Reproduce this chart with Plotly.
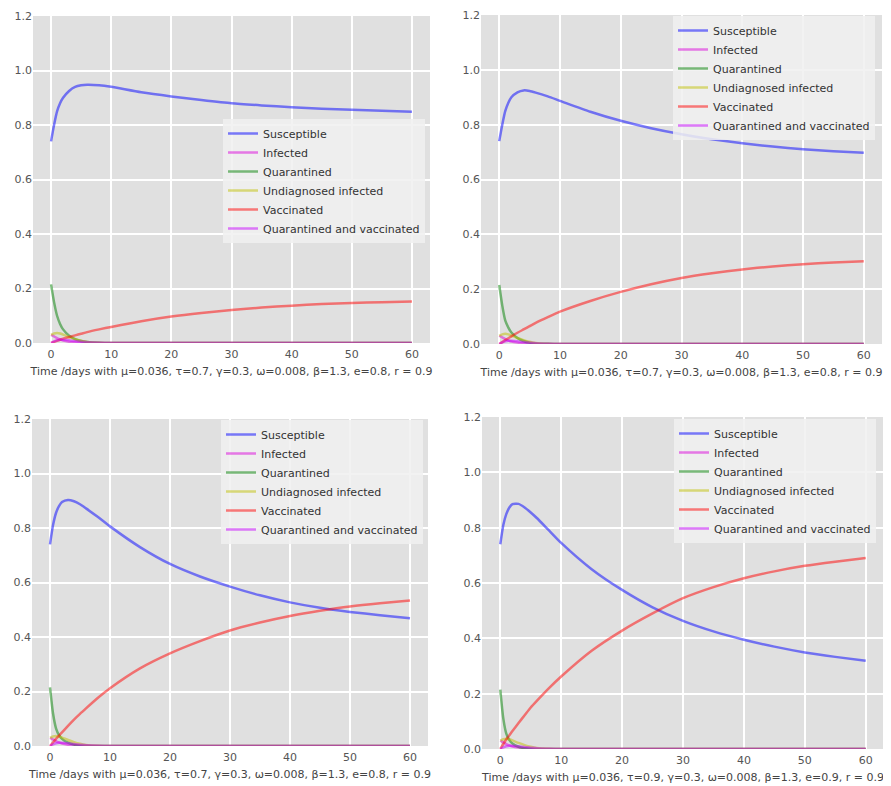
import plotly.graph_objects as go

# ---------------- data ----------------
T = [0, 0.5, 1, 1.5, 2, 3, 4, 5, 6, 8, 10, 15, 20, 25, 30, 35, 40, 45, 50, 55, 60]

S1 = [0.74, 0.80, 0.85, 0.88, 0.90, 0.925, 0.94, 0.946, 0.948, 0.946, 0.94, 0.92, 0.905, 0.892, 0.88, 0.872, 0.865, 0.86, 0.856, 0.852, 0.849]
V1 = [0, 0.004, 0.008, 0.012, 0.016, 0.022, 0.028, 0.034, 0.04, 0.05, 0.059, 0.08, 0.097, 0.11, 0.121, 0.13, 0.137, 0.143, 0.147, 0.15, 0.152]
Q1 = [0.215, 0.15, 0.10, 0.07, 0.05, 0.027, 0.014, 0.007, 0.004, 0.001, 0, 0, 0, 0, 0, 0, 0, 0, 0, 0, 0]

S2 = [0.74, 0.80, 0.85, 0.88, 0.90, 0.918, 0.925, 0.923, 0.917, 0.903, 0.887, 0.847, 0.814, 0.787, 0.765, 0.747, 0.732, 0.72, 0.71, 0.703, 0.698]
V2 = [0, 0.007, 0.014, 0.021, 0.028, 0.041, 0.053, 0.065, 0.077, 0.098, 0.118, 0.157, 0.19, 0.218, 0.241, 0.258, 0.272, 0.283, 0.291, 0.297, 0.302]
Q2 = [0.215, 0.14, 0.085, 0.06, 0.042, 0.022, 0.011, 0.005, 0.002, 0.0005, 0, 0, 0, 0, 0, 0, 0, 0, 0, 0, 0]

S3 = [0.74, 0.81, 0.855, 0.88, 0.895, 0.903, 0.898, 0.887, 0.872, 0.84, 0.806, 0.73, 0.668, 0.622, 0.585, 0.553, 0.527, 0.507, 0.492, 0.48, 0.469]
V3 = [0, 0.013, 0.026, 0.038, 0.05, 0.074, 0.097, 0.118, 0.138, 0.177, 0.212, 0.285, 0.34, 0.385, 0.424, 0.453, 0.477, 0.496, 0.512, 0.524, 0.534]
Q3 = [0.215, 0.12, 0.065, 0.04, 0.026, 0.012, 0.005, 0.002, 0.001, 0, 0, 0, 0, 0, 0, 0, 0, 0, 0, 0, 0]

S4 = [0.74, 0.81, 0.85, 0.873, 0.885, 0.886, 0.873, 0.855, 0.835, 0.79, 0.745, 0.65, 0.575, 0.512, 0.463, 0.425, 0.395, 0.37, 0.349, 0.333, 0.319]
V4 = [0, 0.018, 0.035, 0.05, 0.065, 0.094, 0.122, 0.15, 0.174, 0.22, 0.262, 0.355, 0.428, 0.49, 0.545, 0.585, 0.617, 0.642, 0.662, 0.677, 0.69]
Q4 = [0.215, 0.11, 0.055, 0.032, 0.02, 0.008, 0.003, 0.001, 0, 0, 0, 0, 0, 0, 0, 0, 0, 0, 0, 0, 0]

U_all = [0.03, 0.035, 0.037, 0.035, 0.031, 0.022, 0.014, 0.008, 0.004, 0.001, 0, 0, 0, 0, 0, 0, 0, 0, 0, 0, 0]
I_all = [0.03, 0.024, 0.018, 0.013, 0.009, 0.005, 0.003, 0.001, 0, 0, 0, 0, 0, 0, 0, 0, 0, 0, 0, 0, 0]
QV_all = [0, 0.006, 0.010, 0.012, 0.012, 0.010, 0.007, 0.005, 0.003, 0.001, 0, 0, 0, 0, 0, 0, 0, 0, 0, 0, 0]

NAMES = ["Susceptible", "Infected", "Quarantined", "Undiagnosed infected", "Vaccinated", "Quarantined and vaccinated"]
COLORS = ["rgba(0,0,255,0.5)", "rgba(220,0,220,0.5)", "rgba(0,128,0,0.5)", "rgba(191,191,0,0.5)", "rgba(255,0,0,0.5)", "rgba(200,0,255,0.5)"]

XLABELS = [
    "Time /days with μ=0.036, τ=0.7, γ=0.3, ω=0.008, β=1.3, e=0.8, r = 0.9",
    "Time /days with μ=0.036, τ=0.7, γ=0.3, ω=0.008, β=1.3, e=0.8, r = 0.9",
    "Time /days with μ=0.036, τ=0.7, γ=0.3, ω=0.008, β=1.3, e=0.8, r = 0.9",
    "Time /days with μ=0.036, τ=0.9, γ=0.3, ω=0.008, β=1.3, e=0.9, r = 0.9",
]

panels = [
    (S1, I_all, Q1, U_all, V1, QV_all),
    (S2, I_all, Q2, U_all, V2, QV_all),
    (S3, I_all, Q3, U_all, V3, QV_all),
    (S4, I_all, Q4, U_all, V4, QV_all),
]

OFF = 8  # page body margin
W, H = 891 - OFF, 786 - OFF


def px(x):
    return (x - OFF) / W


def py(y):
    return 1 - (y - OFF) / H


# plot area boxes in page pixels: (left, right, top, bottom)
boxes = [(33, 430, 16, 343), (481, 882, 15, 344), (32, 428, 419, 746), (482, 884, 417, 749)]
legend_pos = [(223, 119), (673, 16), (221, 420), (674, 419)]

fig = go.Figure()
layout = {}
for k, series in enumerate(panels):
    n = "" if k == 0 else str(k + 1)
    leg = "legend" if k == 0 else "legend" + str(k + 1)
    for name, col, vals in zip(NAMES, COLORS, series):
        fig.add_trace(go.Scatter(
            x=T, y=vals, name=name, mode="lines",
            line=dict(color=col, width=2.5, shape="spline", smoothing=0.6),
            xaxis="x" + n, yaxis="y" + n, legend=leg,
        ))
    l, r, t, b = boxes[k]
    layout["xaxis" + n] = dict(
        domain=[px(l), px(r)], anchor="y" + n, range=[-3, 63],
        tickvals=[0, 10, 20, 30, 40, 50, 60], showgrid=True, gridcolor="white", gridwidth=2,
        zeroline=False, showline=False, ticks="", tickfont=dict(size=11, color="#555555"),
        ticklabelstandoff=3,
        title=dict(text=XLABELS[k], font=dict(size=11, color="#444444"), standoff=7),
        automargin=False,
    )
    layout["yaxis" + n] = dict(
        domain=[py(b), py(t)], anchor="x" + n, range=[0, 1.2],
        tickvals=[0, 0.2, 0.4, 0.6, 0.8, 1.0, 1.2], ticktext=["0.0", "0.2", "0.4", "0.6", "0.8", "1.0", "1.2"],
        showgrid=True, gridcolor="white", gridwidth=2, zeroline=False, showline=False, ticks="",
        tickfont=dict(size=11, color="#555555"), automargin=False,
    )
    lx, ly = legend_pos[k]
    layout[leg] = dict(
        x=px(lx), y=py(ly), xanchor="left", yanchor="top",
        bgcolor="rgba(240,240,240,0.85)", borderwidth=0,
        font=dict(size=11, color="#333333"), tracegroupgap=0,
    )

fig.update_layout(
    width=W, height=H, margin=dict(l=0, r=0, t=0, b=0, autoexpand=False),
    paper_bgcolor="white", plot_bgcolor="#E0E0E0",
    font=dict(family="DejaVu Sans"),
    showlegend=True,
    **layout,
)

fig.write_html("out.html")
